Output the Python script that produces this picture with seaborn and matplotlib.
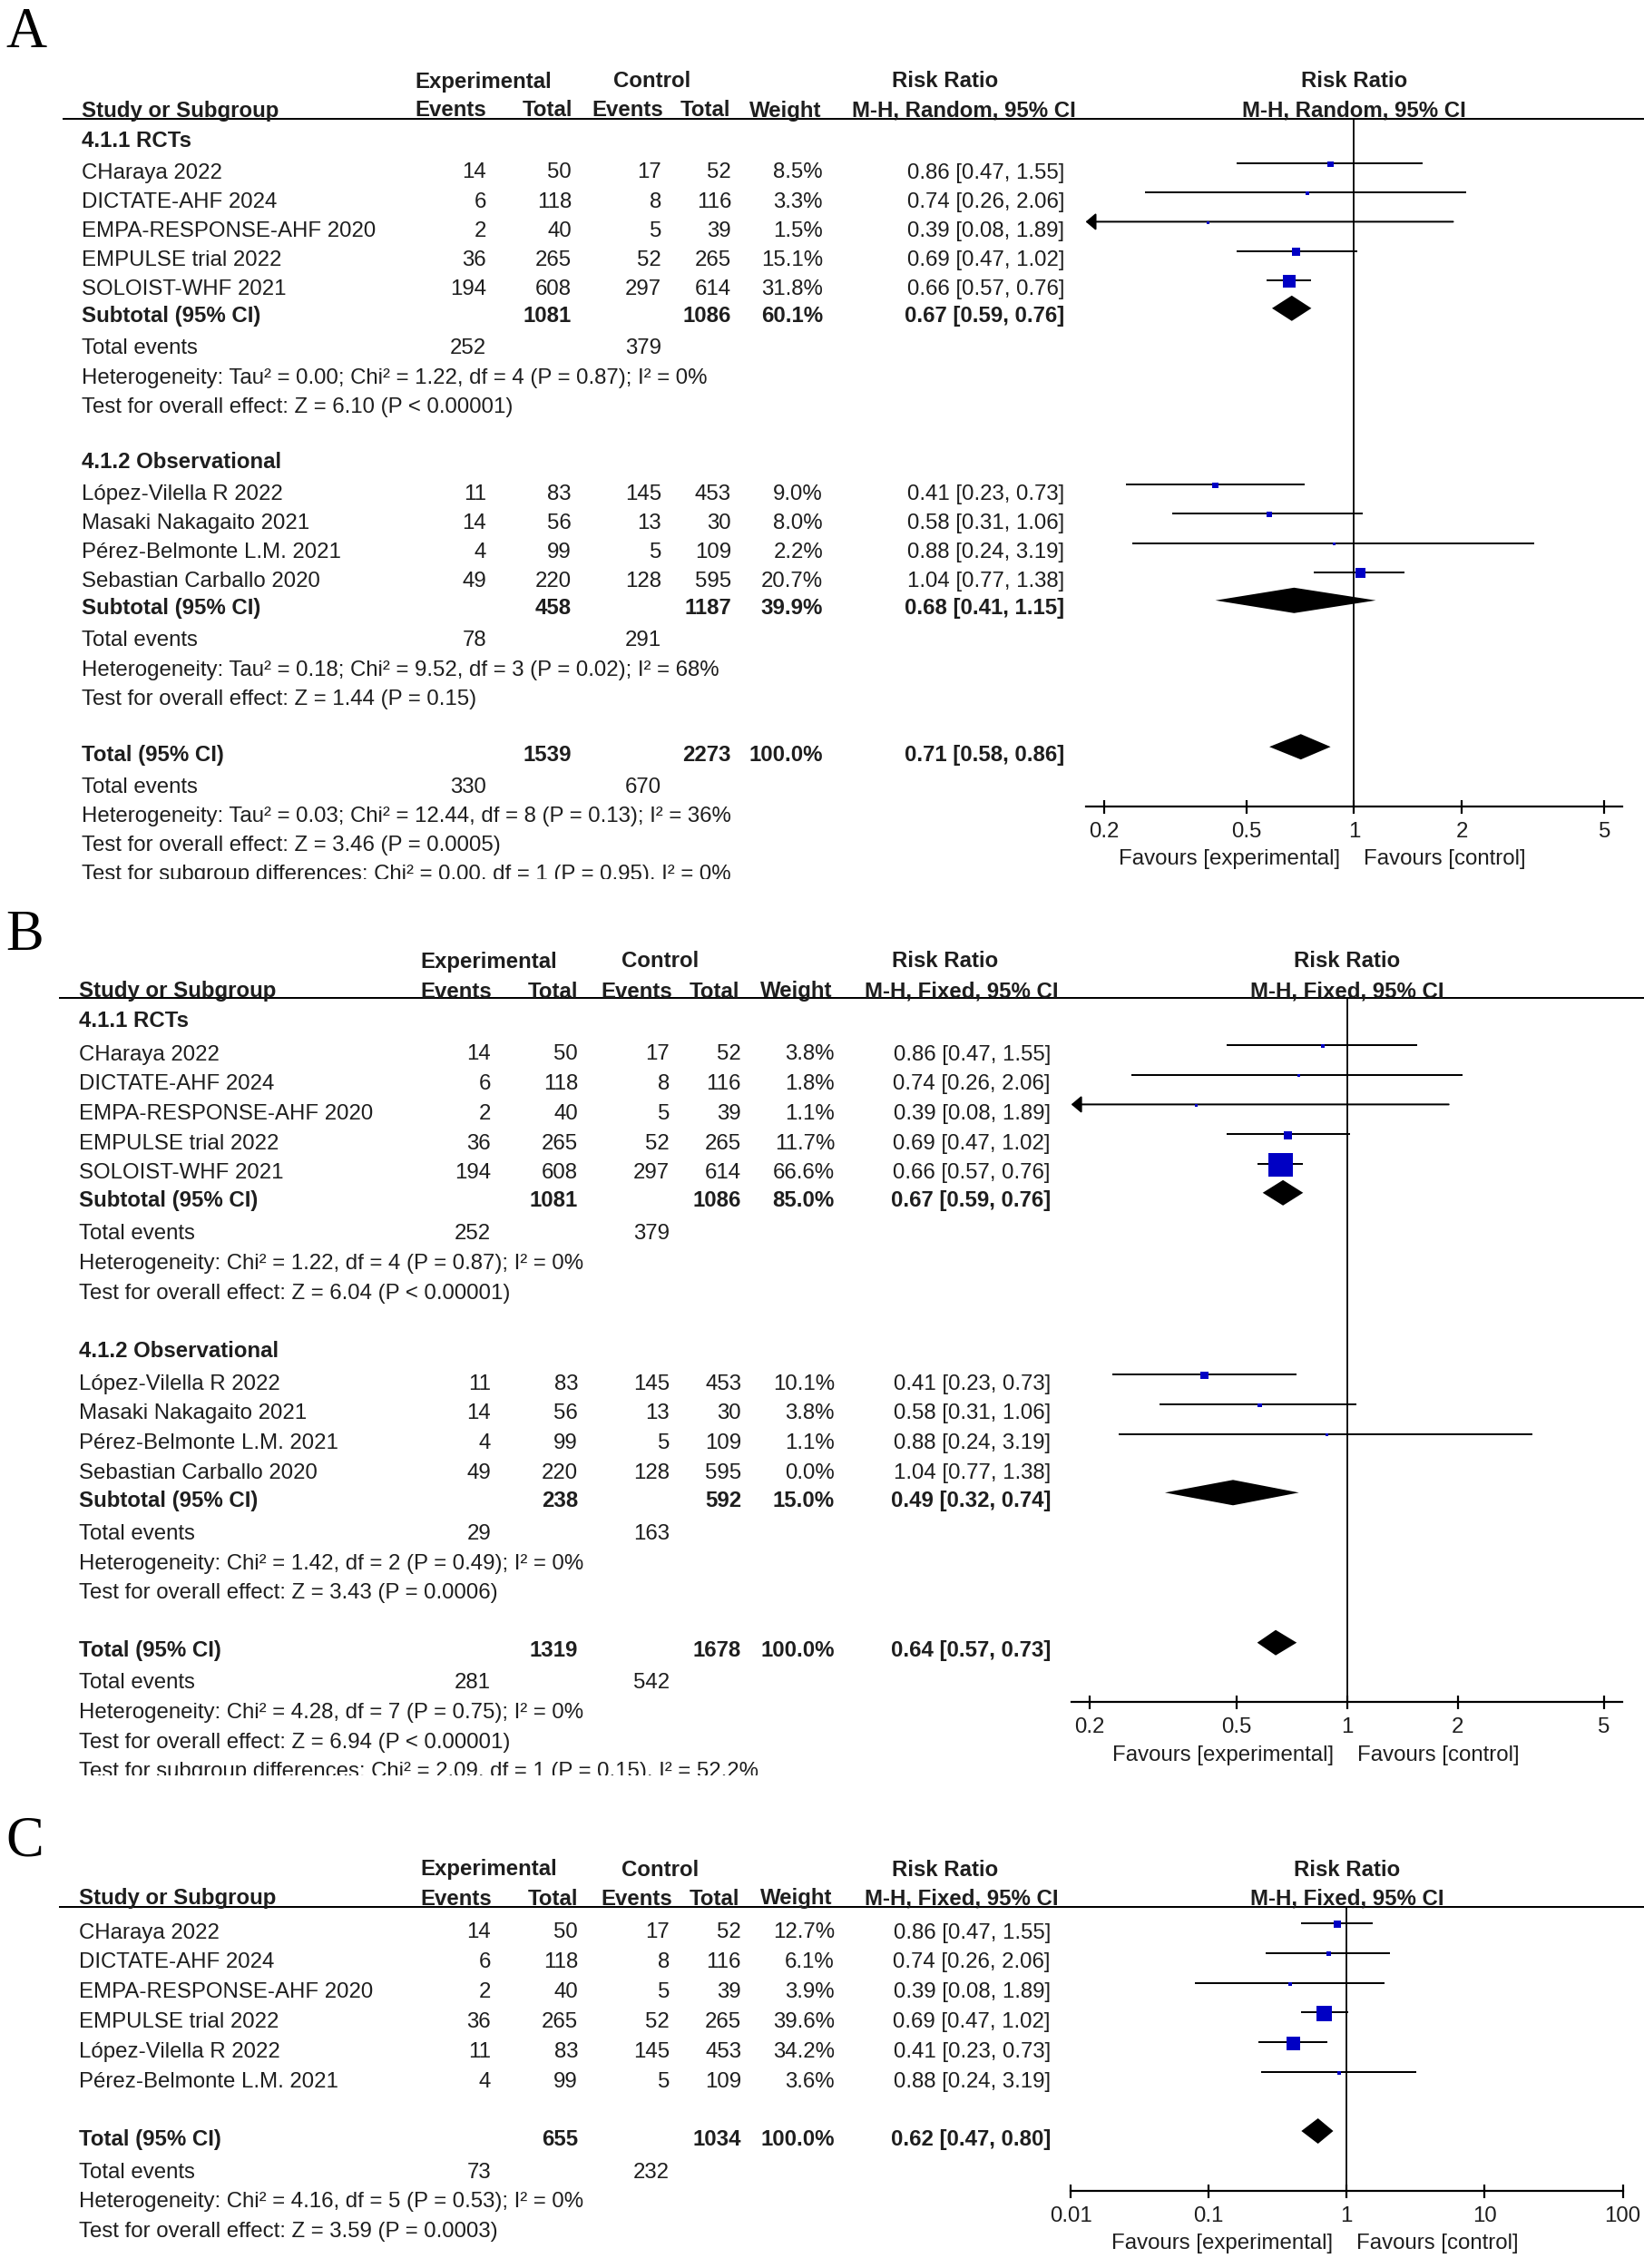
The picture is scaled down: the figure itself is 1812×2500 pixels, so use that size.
import numpy as np
import matplotlib
matplotlib.use("Agg")
import matplotlib.pyplot as plt
from matplotlib.patches import Rectangle
import seaborn as sns

# ------------------------------------------------------------------ data
rct_names = ["CHaraya 2022", "DICTATE-AHF 2024", "EMPA-RESPONSE-AHF 2020",
             "EMPULSE trial 2022", "SOLOIST-WHF 2021"]
rct_exp_events = [14, 6, 2, 36, 194]
rct_exp_total = [50, 118, 40, 265, 608]
rct_ctl_events = [17, 8, 5, 52, 297]
rct_ctl_total = [52, 116, 39, 265, 614]
rct_rr = [0.86, 0.74, 0.39, 0.69, 0.66]
rct_lo = [0.47, 0.26, 0.08, 0.47, 0.57]
rct_hi = [1.55, 2.06, 1.89, 1.02, 0.76]

obs_names = ["López-Vilella R 2022", "Masaki Nakagaito 2021",
             "Pérez-Belmonte L.M. 2021", "Sebastian Carballo 2020"]
obs_exp_events = [11, 14, 4, 49]
obs_exp_total = [83, 56, 99, 220]
obs_ctl_events = [145, 13, 5, 128]
obs_ctl_total = [453, 30, 109, 595]
obs_rr = [0.41, 0.58, 0.88, 1.04]
obs_lo = [0.23, 0.31, 0.24, 0.77]
obs_hi = [0.73, 1.06, 3.19, 1.38]

# Panel A (M-H, Random)
a_rct_weights = [8.5, 3.3, 1.5, 15.1, 31.8]
a_obs_weights = [9.0, 8.0, 2.2, 20.7]
a_sub_exp_total = [1081, 458]
a_sub_ctl_total = [1086, 1187]
a_sub_weight = [60.1, 39.9]
a_sub_rr = [0.67, 0.68]
a_sub_lo = [0.59, 0.41]
a_sub_hi = [0.76, 1.15]
a_sub_exp_events = [252, 78]
a_sub_ctl_events = [379, 291]
a_sub_het = ["Heterogeneity: Tau² = 0.00; Chi² = 1.22, df = 4 (P = 0.87); I² = 0%",
             "Heterogeneity: Tau² = 0.18; Chi² = 9.52, df = 3 (P = 0.02); I² = 68%"]
a_sub_test = ["Test for overall effect: Z = 6.10 (P < 0.00001)",
              "Test for overall effect: Z = 1.44 (P = 0.15)"]
a_total_n = [1539, 2273]
a_total_ci = [0.71, 0.58, 0.86]
a_total_events = [330, 670]
a_total_notes = ["Heterogeneity: Tau² = 0.03; Chi² = 12.44, df = 8 (P = 0.13); I² = 36%",
                 "Test for overall effect: Z = 3.46 (P = 0.0005)",
                 "Test for subgroup differences: Chi² = 0.00, df = 1 (P = 0.95), I² = 0%"]

# Panel B (M-H, Fixed)
b_rct_weights = [3.8, 1.8, 1.1, 11.7, 66.6]
b_obs_weights = [10.1, 3.8, 1.1, 0.0]
b_sub_exp_total = [1081, 238]
b_sub_ctl_total = [1086, 592]
b_sub_weight = [85.0, 15.0]
b_sub_rr = [0.67, 0.49]
b_sub_lo = [0.59, 0.32]
b_sub_hi = [0.76, 0.74]
b_sub_exp_events = [252, 29]
b_sub_ctl_events = [379, 163]
b_sub_het = ["Heterogeneity: Chi² = 1.22, df = 4 (P = 0.87); I² = 0%",
             "Heterogeneity: Chi² = 1.42, df = 2 (P = 0.49); I² = 0%"]
b_sub_test = ["Test for overall effect: Z = 6.04 (P < 0.00001)",
              "Test for overall effect: Z = 3.43 (P = 0.0006)"]
b_total_n = [1319, 1678]
b_total_ci = [0.64, 0.57, 0.73]
b_total_events = [281, 542]
b_total_notes = ["Heterogeneity: Chi² = 4.28, df = 7 (P = 0.75); I² = 0%",
                 "Test for overall effect: Z = 6.94 (P < 0.00001)",
                 "Test for subgroup differences: Chi² = 2.09, df = 1 (P = 0.15), I² = 52.2%"]

# Panel C (M-H, Fixed)
c_names = ["CHaraya 2022", "DICTATE-AHF 2024", "EMPA-RESPONSE-AHF 2020",
           "EMPULSE trial 2022", "López-Vilella R 2022", "Pérez-Belmonte L.M. 2021"]
c_exp_events = [14, 6, 2, 36, 11, 4]
c_exp_total = [50, 118, 40, 265, 83, 99]
c_ctl_events = [17, 8, 5, 52, 145, 5]
c_ctl_total = [52, 116, 39, 265, 453, 109]
c_weights = [12.7, 6.1, 3.9, 39.6, 34.2, 3.6]
c_rr = [0.86, 0.74, 0.39, 0.69, 0.41, 0.88]
c_lo = [0.47, 0.26, 0.08, 0.47, 0.23, 0.24]
c_hi = [1.55, 2.06, 1.89, 1.02, 0.73, 3.19]
c_total_n = [655, 1034]
c_total_ci = [0.62, 0.47, 0.80]
c_total_events = [73, 232]
c_total_notes = ["Heterogeneity: Chi² = 4.16, df = 5 (P = 0.53); I² = 0%",
                 "Test for overall effect: Z = 3.59 (P = 0.0003)"]

ticks_ab = [0.2, 0.5, 1, 2, 5]
tick_labels_ab = ["0.2", "0.5", "1", "2", "5"]
ticks_c = [0.01, 0.1, 1, 10, 100]
tick_labels_c = ["0.01", "0.1", "1", "10", "100"]

# ------------------------------------------------------------------ style
sns.set_theme(style="white")
plt.rcParams["font.family"] = ["Liberation Sans", "DejaVu Sans"]

W, H = 1812, 2500
PX = 72 / 100.0          # points per pixel
FS = 17.3
BASE = 8.5               # text centre -> baseline (px)
TXT = "#1e1e1e"
BLUE = "#0000C4"
DH = 14                  # diamond half height (px)
LW = 2.0 * PX

fig = plt.figure(figsize=(W / 100, H / 100), dpi=100)
fig.patch.set_facecolor("white")
canvas = fig.add_axes([0, 0, 1, 1])
canvas.set_xlim(0, W)
canvas.set_ylim(H, 0)
canvas.axis("off")


def tx(x, yc, s, ha="left", bold=False):
    canvas.text(x, yc + BASE, s, ha=ha, va="baseline", fontsize=FS,
                fontweight="bold" if bold else "normal", color=TXT)


def ci_str(r, l, h):
    return f"{r:.2f} [{l:.2f}, {h:.2f}]"


def draw_panel(L, letter, mh_label, groups, total, ticks, tick_labels, size_c):
    y0, cols, hx, g, step = L["y0"], L["cols"], L["hx"], L["gaps"], L["step"]
    fx0, fx1, fy1 = L["fx0"], L["fx1"], L["fy1"]
    xl0, xl1 = L["xlim"]
    lx0, lx1 = np.log10(xl0), np.log10(xl1)
    x_one = fx0 + (0 - lx0) / (lx1 - lx0) * (fx1 - fx0)
    nx = L["name_x"]

    canvas.text(6, L["letter_base"], letter, fontsize=45, va="baseline",
                family=["Liberation Serif", "DejaVu Serif"], color="black")

    # headers
    tx(hx[0], L["hdr1"], "Experimental", "center", True)
    tx(hx[1], L["hdr1"], "Control", "center", True)
    tx(hx[2], L["hdr1"], "Risk Ratio", "center", True)
    tx(x_one, L["hdr1"], "Risk Ratio", "center", True)
    tx(nx, L["hdr2"], "Study or Subgroup", "left", True)
    for x, s in zip(hx[3:9], ["Events", "Total", "Events", "Total", "Weight", mh_label]):
        tx(x, L["hdr2"], s, "center", True)
    tx(x_one, L["hdr2"], mh_label, "center", True)
    canvas.plot([L["line_x0"], W], [y0, y0], color="black", lw=2 * PX,
                solid_capstyle="butt")

    ax = fig.add_axes([fx0 / W, 1 - fy1 / H, (fx1 - fx0) / W, (fy1 - y0) / H])
    ax.patch.set_visible(False)

    sx, sy, ss, lines, dias = [], [], [], [], []
    y = y0
    for gi, grp in enumerate(groups):
        if grp["label"] is not None:
            y += g["label_first"] if gi == 0 else g["group"]
            tx(nx, y, grp["label"], bold=True)
        y += g["first"]
        for i, name in enumerate(grp["names"]):
            if i > 0:
                y += step
            tx(nx, y, name)
            tx(cols[0], y, str(grp["ee"][i]), "right")
            tx(cols[1], y, str(grp["et"][i]), "right")
            tx(cols[2], y, str(grp["ce"][i]), "right")
            tx(cols[3], y, str(grp["ct"][i]), "right")
            w = grp["w"][i]
            tx(cols[4], y, f"{w:.1f}%", "right")
            tx(cols[5], y, ci_str(grp["rr"][i], grp["lo"][i], grp["hi"][i]), "right")
            if w > 0:
                side = max(3.0, size_c * w ** 0.6)
                sx.append(grp["rr"][i])
                sy.append(y - 7)
                ss.append((side * PX) ** 2)
                lines.append((grp["lo"][i], grp["hi"][i], y - 8))
        sub = grp.get("sub")
        if sub is not None:
            y += g["sub"]
            tx(nx, y, "Subtotal (95% CI)", bold=True)
            tx(cols[1], y, str(sub["et"]), "right", True)
            tx(cols[3], y, str(sub["ct"]), "right", True)
            tx(cols[4], y, f"{sub['w']:.1f}%", "right", True)
            tx(cols[5], y, ci_str(sub["rr"], sub["lo"], sub["hi"]), "right", True)
            dias.append((sub["rr"], sub["lo"], sub["hi"], y - 7))
            y += g["te"]
            tx(nx, y, "Total events")
            tx(cols[0], y, str(sub["ee"]), "right")
            tx(cols[2], y, str(sub["ce"]), "right")
            y += step
            tx(nx, y, sub["het"])
            y += step
            tx(nx, y, sub["test"])

    # overall total
    y += g["total"]
    tx(nx, y, "Total (95% CI)", bold=True)
    tx(cols[1], y, str(total["n"][0]), "right", True)
    tx(cols[3], y, str(total["n"][1]), "right", True)
    tx(cols[4], y, "100.0%", "right", True)
    tx(cols[5], y, ci_str(*total["ci"]), "right", True)
    dias.append((total["ci"][0], total["ci"][1], total["ci"][2], y - 7))
    y += g["tte"]
    tx(nx, y, "Total events")
    tx(cols[0], y, str(total["events"][0]), "right")
    tx(cols[2], y, str(total["events"][1]), "right")
    for note in total["notes"]:
        y += step
        tx(nx, y, note)

    if "clip" in L:
        canvas.add_patch(Rectangle((0, L["clip"]), 1170, 30, facecolor="white",
                                   edgecolor="none", zorder=20))

    # ---- forest plot
    sns.scatterplot(x=sx, y=sy, s=ss, marker="s", color=BLUE, linewidth=0,
                    legend=False, ax=ax, zorder=4)
    for lo, hi, yl in lines:
        lo_c, hi_c = max(lo, xl0), min(hi, xl1)
        if lo < xl0:
            ax.annotate("", xy=(xl0, yl), xytext=(hi_c, yl),
                        arrowprops=dict(arrowstyle="-|>,head_length=0.45,head_width=0.38",
                                        color="black", lw=LW, shrinkA=0,
                                        shrinkB=0, mutation_scale=15),
                        annotation_clip=False)
        else:
            ax.plot([lo_c, hi_c], [yl, yl], color="black", lw=LW,
                    solid_capstyle="butt", zorder=3)
    for rr, lo, hi, yd in dias:
        ax.fill([lo, rr, hi, rr], [yd, yd - DH, yd, yd + DH], color="black",
                lw=0, zorder=4)
    ax.axvline(1, color="black", lw=1.8 * PX, zorder=2)

    ax.set_xscale("log")
    ax.set_xlim(xl0, xl1)
    ax.set_ylim(fy1, y0)
    ax.set_xticks(ticks, labels=tick_labels)
    ax.minorticks_off()
    ax.set_yticks([])
    ax.set_xlabel("")
    ax.set_ylabel("")
    ax.grid(False)
    for sp in ("top", "left", "right"):
        ax.spines[sp].set_visible(False)
    ax.spines["bottom"].set_color("black")
    ax.spines["bottom"].set_linewidth(2.2 * PX)
    ax.tick_params(axis="x", which="major", bottom=True, top=False,
                   direction="inout", length=15 * PX, width=2.2 * PX,
                   color="black", labelsize=FS, labelcolor=TXT, pad=7)

    tx(x_one - 15, fy1 + 56, "Favours [experimental]", "right")
    tx(x_one + 11, fy1 + 56, "Favours [control]", "left")


def make_groups(rw, ow, sub_et, sub_ct, sub_w, sub_rr, sub_lo, sub_hi,
                sub_ee, sub_ce, sub_het, sub_test):
    subs = [dict(et=sub_et[k], ct=sub_ct[k], w=sub_w[k], rr=sub_rr[k], lo=sub_lo[k],
                 hi=sub_hi[k], ee=sub_ee[k], ce=sub_ce[k], het=sub_het[k],
                 test=sub_test[k]) for k in range(2)]
    return [
        dict(label="4.1.1 RCTs", names=rct_names, ee=rct_exp_events, et=rct_exp_total,
             ce=rct_ctl_events, ct=rct_ctl_total, w=rw, rr=rct_rr, lo=rct_lo,
             hi=rct_hi, sub=subs[0]),
        dict(label="4.1.2 Observational", names=obs_names, ee=obs_exp_events,
             et=obs_exp_total, ce=obs_ctl_events, ct=obs_ctl_total, w=ow, rr=obs_rr,
             lo=obs_lo, hi=obs_hi, sub=subs[1]),
    ]


layout_a = dict(letter_base=52, y0=131, line_x0=69, hdr1=88, hdr2=120, name_x=90,
                cols=[536, 630, 729, 806, 907, 1173],
                hx=[533, 719, 1042, 497, 603, 692, 778, 866, 1062],
                fx0=1196.6, fx1=1787.7, fy1=889, xlim=(0.178, 5.6), step=32.2,
                gaps=dict(label_first=22, first=35, sub=30, te=35, group=61,
                          total=62, tte=35), clip=969)
layout_b = dict(letter_base=1047, y0=1100, line_x0=65, hdr1=1058, hdr2=1091, name_x=87,
                cols=[541, 637, 738, 817, 920, 1158],
                hx=[539, 728, 1042, 503, 610, 702, 788, 878, 1060],
                fx0=1180.7, fx1=1788, fy1=1876, xlim=(0.178, 5.6), step=32.7,
                gaps=dict(label_first=24, first=36, sub=31, te=36, group=64,
                          total=64, tte=35), clip=1957)
layout_c = dict(letter_base=2045, y0=2102, line_x0=65, hdr1=2059, hdr2=2091, name_x=87,
                cols=[541, 637, 738, 817, 920, 1158],
                hx=[539, 728, 1042, 503, 610, 702, 788, 878, 1060],
                fx0=1180, fx1=1788.5, fy1=2415, xlim=(0.01, 100), step=32.8,
                gaps=dict(first=26, total=64, tte=36))

draw_panel(layout_a, "A", "M-H, Random, 95% CI",
           make_groups(a_rct_weights, a_obs_weights, a_sub_exp_total, a_sub_ctl_total,
                       a_sub_weight, a_sub_rr, a_sub_lo, a_sub_hi, a_sub_exp_events,
                       a_sub_ctl_events, a_sub_het, a_sub_test),
           dict(n=a_total_n, ci=a_total_ci, events=a_total_events, notes=a_total_notes),
           ticks_ab, tick_labels_ab, 1.76)

draw_panel(layout_b, "B", "M-H, Fixed, 95% CI",
           make_groups(b_rct_weights, b_obs_weights, b_sub_exp_total, b_sub_ctl_total,
                       b_sub_weight, b_sub_rr, b_sub_lo, b_sub_hi, b_sub_exp_events,
                       b_sub_ctl_events, b_sub_het, b_sub_test),
           dict(n=b_total_n, ci=b_total_ci, events=b_total_events, notes=b_total_notes),
           ticks_ab, tick_labels_ab, 2.1)

draw_panel(layout_c, "C", "M-H, Fixed, 95% CI",
           [dict(label=None, names=c_names, ee=c_exp_events, et=c_exp_total,
                 ce=c_ctl_events, ct=c_ctl_total, w=c_weights, rr=c_rr, lo=c_lo,
                 hi=c_hi, sub=None)],
           dict(n=c_total_n, ci=c_total_ci, events=c_total_events, notes=c_total_notes),
           ticks_c, tick_labels_c, 1.82)

fig.savefig("out.png", dpi=100, facecolor="white")
